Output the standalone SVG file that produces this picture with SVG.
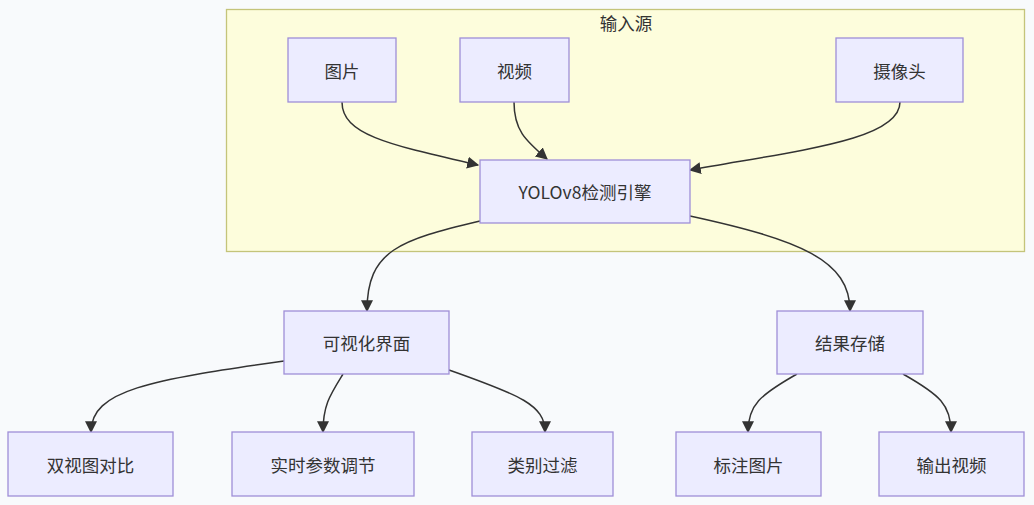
<svg xmlns="http://www.w3.org/2000/svg" width="1034" height="505" viewBox="0 0 1034 505">
<style>
.node rect{fill:#ECECFF;stroke:#9F8FD8;stroke-width:1.3}
.node text,.lbl{font-family:"Noto Sans CJK SC","Liberation Sans",sans-serif;font-size:17.5px;fill:#333;text-anchor:middle;dominant-baseline:central}
.edges path{fill:none;stroke:#333;stroke-width:1.5;marker-end:url(#arr)}
</style>
<defs>
<marker id="arr" viewBox="0 0 10 10" refX="9" refY="5" markerUnits="userSpaceOnUse" markerWidth="12" markerHeight="12" orient="auto">
<path d="M0,0 L10,5 L0,10 z" fill="#333"/>
</marker>
</defs>
<rect x="0" y="0" width="1034" height="505" fill="#f8fafc"/>
<g id="cluster-input">
<rect x="226.5" y="9.5" width="798" height="242" fill="#fdfddc" stroke="#c4c47a" stroke-width="1.3"/>
<text class="lbl" x="626" y="22">输入源</text>
</g>
<g class="edges" id="edges">
<path d="M342,102 C342,135 390,145 478,165"/>
<path d="M514,102 C514,130 525,140 547,159"/>
<path d="M900,102 C900,140 800,150 690,170"/>
<path d="M480,221 C400,240 367,250 367,311"/>
<path d="M690,216 C800,240 850,260 850,311"/>
<path d="M284,361 C150,380 91,390 91,432"/>
<path d="M343,374 C330,395 323,405 323,432"/>
<path d="M449,370 C520,395 545,405 545,432"/>
<path d="M797,374 C760,395 748,405 748,432"/>
<path d="M903,374 C940,395 951,405 951,432"/>
</g>
<g class="node" id="n-pic"><rect x="288" y="38" width="108" height="64"/><text x="342" y="70">图片</text></g>
<g class="node" id="n-video"><rect x="460" y="38" width="109" height="64"/><text x="514.5" y="70">视频</text></g>
<g class="node" id="n-cam"><rect x="836" y="38" width="127" height="64"/><text x="899.5" y="70">摄像头</text></g>
<g class="node" id="n-yolo"><rect x="480" y="160" width="210" height="63"/><text x="585" y="191.5">YOLOv8检测引擎</text></g>
<g class="node" id="n-ui"><rect x="284" y="311" width="165" height="63"/><text x="366.5" y="342.5">可视化界面</text></g>
<g class="node" id="n-store"><rect x="777" y="311" width="146" height="63"/><text x="850" y="342.5">结果存储</text></g>
<g class="node" id="n-dual"><rect x="8" y="432" width="165" height="64"/><text x="90.5" y="464">双视图对比</text></g>
<g class="node" id="n-param"><rect x="232" y="432" width="182" height="64"/><text x="323" y="464">实时参数调节</text></g>
<g class="node" id="n-filter"><rect x="472" y="432" width="141" height="64"/><text x="542.5" y="464">类别过滤</text></g>
<g class="node" id="n-annot"><rect x="676" y="432" width="145" height="64"/><text x="748.5" y="464">标注图片</text></g>
<g class="node" id="n-outvid"><rect x="879" y="432" width="145" height="64"/><text x="951.5" y="464">输出视频</text></g>
</svg>
